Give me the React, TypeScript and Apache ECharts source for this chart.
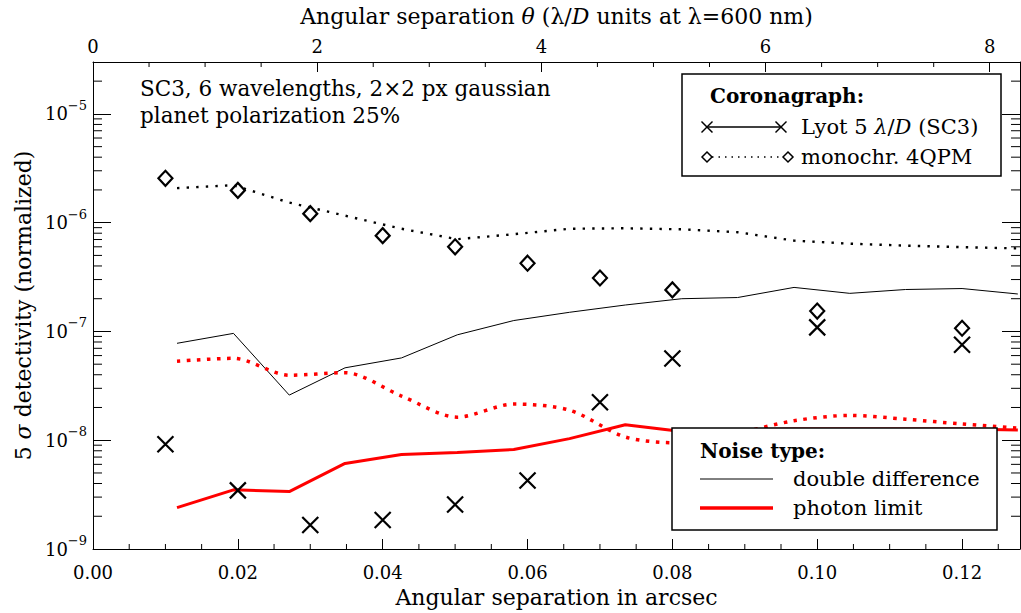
import React, { useEffect, useRef } from "react";
import * as echarts from "echarts";

const FONT = "DejaVu Serif";

// Axis ranges
const X_MIN = 0;
const X_MAX = 0.128; // arcsec
const THETA_MAX = 8.27; // lambda/D
const Y_MIN = 1e-9;
const Y_MAX = 3e-5;

// Minor tick positions
const X_MINOR = [0.005, 0.01, 0.015, 0.025, 0.03, 0.035, 0.045, 0.05, 0.055, 0.065, 0.07, 0.075, 0.085, 0.09, 0.095, 0.105, 0.11, 0.115, 0.125];
const THETA_MINOR = [0.5, 1, 1.5, 2.5, 3, 3.5, 4.5, 5, 5.5, 6.5, 7, 7.5];
const Y_MINOR = [
  2e-9, 3e-9, 4e-9, 5e-9, 6e-9, 7e-9, 8e-9, 9e-9,
  2e-8, 3e-8, 4e-8, 5e-8, 6e-8, 7e-8, 8e-8, 9e-8,
  2e-7, 3e-7, 4e-7, 5e-7, 6e-7, 7e-7, 8e-7, 9e-7,
  2e-6, 3e-6, 4e-6, 5e-6, 6e-6, 7e-6, 8e-6, 9e-6,
  2e-5,
];

// Simulated planet points (arcsec)
const POINT_X = [0.01, 0.02, 0.03, 0.04, 0.05, 0.06, 0.07, 0.08, 0.10, 0.12];
const LYOT_POINTS = [9.2e-9, 3.46e-9, 1.66e-9, 1.85e-9, 2.56e-9, 4.27e-9, 2.23e-8, 5.64e-8, 1.09e-7, 7.55e-8];
const QPM_POINTS = [2.56e-6, 1.98e-6, 1.21e-6, 7.6e-7, 6.0e-7, 4.24e-7, 3.1e-7, 2.41e-7, 1.54e-7, 1.07e-7];

// Detectivity curves
const CURVE_X = [0.0116, 0.0194, 0.0271, 0.0348, 0.0426, 0.0503, 0.0581, 0.0658, 0.0735, 0.0813, 0.089, 0.0968, 0.1045, 0.1122, 0.12, 0.1277];
const LYOT_DD = [7.78e-8, 9.6e-8, 2.6e-8, 4.63e-8, 5.71e-8, 9.31e-8, 1.26e-7, 1.5e-7, 1.75e-7, 2.0e-7, 2.05e-7, 2.54e-7, 2.24e-7, 2.43e-7, 2.48e-7, 2.21e-7];
const QPM_DD = [2.08e-6, 2.21e-6, 1.53e-6, 1.16e-6, 8.79e-7, 7.05e-7, 7.83e-7, 8.79e-7, 8.88e-7, 8.69e-7, 8.17e-7, 6.84e-7, 6.41e-7, 6.15e-7, 5.96e-7, 5.8e-7];
const LYOT_PH = [2.4e-9, 3.5e-9, 3.37e-9, 6.12e-9, 7.4e-9, 7.71e-9, 8.22e-9, 1.034e-8, 1.387e-8, 1.2e-8, 1.24e-8, 1.27e-8, 1.27e-8, 1.27e-8, 1.27e-8, 1.24e-8];
const QPM_PH = [5.33e-8, 5.66e-8, 3.96e-8, 4.18e-8, 2.55e-8, 1.63e-8, 2.15e-8, 1.89e-8, 1.07e-8, 9.45e-9, 1.16e-8, 1.51e-8, 1.69e-8, 1.56e-8, 1.41e-8, 1.29e-8];

const zip = (xs: number[], ys: number[]) => xs.map((x, i) => [x, ys[i]]);

const X_PATH = "path://M0,0L10,10M10,0L0,10";

function buildOption(): any {
  const txt = { fontFamily: FONT, color: "#000" };
  const axisLine = { show: true, onZero: false, lineStyle: { color: "#000", width: 1 } };
  const TITLE = 22;
  const LEG = 21;

  const minorSeries = (data: number[][], xAxisIndex: number, kind: string) => ({
    type: "custom",
    xAxisIndex,
    yAxisIndex: 0,
    silent: true,
    z: 1,
    clip: false,
    data,
    renderItem: (params: any, api: any) => {
      const cs = params.coordSys;
      if (kind === "y") {
        const y = api.coord([xAxisIndex === 0 ? 0.05 : 4, api.value(1)])[1];
        return {
          type: "group",
          children: [
            { type: "line", shape: { x1: cs.x, y1: y, x2: cs.x + 9, y2: y }, style: { stroke: "#000", lineWidth: 1 } },
            { type: "line", shape: { x1: cs.x + cs.width, y1: y, x2: cs.x + cs.width - 9, y2: y }, style: { stroke: "#000", lineWidth: 1 } },
          ],
        };
      }
      const x = api.coord([api.value(0), 1e-8])[0];
      if (kind === "bottom") {
        const yb = cs.y + cs.height;
        return { type: "line", shape: { x1: x, y1: yb, x2: x, y2: yb - 5 }, style: { stroke: "#000", lineWidth: 1 } };
      }
      return { type: "line", shape: { x1: x, y1: cs.y, x2: x, y2: cs.y + 5 }, style: { stroke: "#000", lineWidth: 1 } };
    },
  });

  const yLabel = (v: number) => {
    const e = Math.round(Math.log10(v));
    return `{b|10}{e|${e < 0 ? "\u2212" : ""}${Math.abs(e)}}`;
  };

  const T = (text: string, x: number, y: number, extra: any = {}) => ({
    type: "text",
    x,
    y,
    z: 102,
    style: { text, fontFamily: FONT, fontSize: LEG, fill: "#000", verticalAlign: "middle", ...extra },
  });
  const L = (x1: number, y1: number, x2: number, y2: number, style: any) => ({
    type: "line",
    z: 102,
    shape: { x1, y1, x2, y2 },
    style: { stroke: "#000", lineWidth: 1.5, ...style },
  });
  const cross = (cx: number, cy: number, h: number) => [
    L(cx - h, cy - h, cx + h, cy + h, {}),
    L(cx - h, cy + h, cx + h, cy - h, {}),
  ];
  const diamond = (cx: number, cy: number, h: number) => ({
    type: "polygon",
    z: 102,
    shape: { points: [[cx, cy - h], [cx + h, cy], [cx, cy + h], [cx - h, cy]] },
    style: { fill: "#fff", stroke: "#000", lineWidth: 1.5 },
  });
  const italicT = { i: { fontFamily: FONT, fontSize: TITLE, fontStyle: "italic" } };
  const italicL = { i: { fontFamily: FONT, fontSize: LEG, fontStyle: "italic" } };

  return {
    animation: false,
    backgroundColor: "#fff",
    grid: { left: 93, right: 1, top: 61, bottom: 60, containLabel: false },
    xAxis: [
      {
        type: "value",
        position: "bottom",
        min: X_MIN,
        max: X_MAX,
        interval: 0.02,
        name: "Angular separation in arcsec",
        nameLocation: "middle",
        nameGap: 37,
        nameTextStyle: { ...txt, fontSize: TITLE },
        axisLine,
        axisTick: { show: true, inside: true, length: 10, lineStyle: { color: "#000", width: 1 } },
        splitLine: { show: false },
        axisLabel: { ...txt, fontSize: 18, margin: 14, showMaxLabel: false, formatter: (v: number) => v.toFixed(2) },
      },
      {
        type: "value",
        position: "top",
        min: 0,
        max: THETA_MAX,
        interval: 2,
        name: "Angular separation {i|\u03b8} (\u03bb/{i|D} units at \u03bb=600 nm)",
        nameLocation: "middle",
        nameGap: 35,
        nameTextStyle: { ...txt, fontSize: TITLE, rich: italicT },
        axisLine,
        axisTick: { show: true, inside: true, length: 10, lineStyle: { color: "#000", width: 1 } },
        splitLine: { show: false },
        axisLabel: { ...txt, fontSize: 18, margin: 7, showMaxLabel: false },
      },
    ],
    yAxis: [
      {
        type: "log",
        logBase: 10,
        position: "left",
        min: Y_MIN,
        max: Y_MAX,
        name: "5 {i|\u03c3} detectivity (normalized)",
        nameLocation: "middle",
        nameRotate: 90,
        nameGap: 59,
        nameTextStyle: { ...txt, fontSize: TITLE, rich: italicT },
        axisLine,
        axisTick: { show: true, inside: true, length: 18, lineStyle: { color: "#000", width: 1 } },
        splitLine: { show: false },
        axisLabel: {
          ...txt,
          margin: 6,
          showMaxLabel: false,
          formatter: yLabel,
          rich: {
            b: { fontFamily: FONT, fontSize: 18, lineHeight: 30, color: "#000" },
            e: { fontFamily: FONT, fontSize: 13, verticalAlign: "top", color: "#000" },
          },
        },
      },
      {
        type: "log",
        logBase: 10,
        position: "right",
        min: Y_MIN,
        max: Y_MAX,
        axisLine,
        axisTick: { show: true, inside: true, length: 18, lineStyle: { color: "#000", width: 1 } },
        splitLine: { show: false },
        axisLabel: { show: false },
      },
    ],
    series: [
      minorSeries(X_MINOR.map((v) => [v, 1e-8]), 0, "bottom"),
      minorSeries(THETA_MINOR.map((v) => [v, 1e-8]), 1, "top"),
      minorSeries(Y_MINOR.map((v) => [0.05, v]), 0, "y"),
      {
        name: "Lyot double difference",
        type: "line",
        data: zip(CURVE_X, LYOT_DD),
        symbol: "none",
        lineStyle: { color: "#000", width: 1 },
        z: 3,
      },
      {
        name: "4QPM double difference",
        type: "line",
        data: zip(CURVE_X, QPM_DD),
        symbol: "none",
        lineStyle: { color: "#000", width: 2.4, type: [2.4, 7.2] },
        z: 3,
      },
      {
        name: "Lyot photon limit",
        type: "line",
        data: zip(CURVE_X, LYOT_PH),
        symbol: "none",
        lineStyle: { color: "#ff0000", width: 3 },
        z: 3,
      },
      {
        name: "4QPM photon limit",
        type: "line",
        data: zip(CURVE_X, QPM_PH),
        symbol: "none",
        smooth: 0.3,
        lineStyle: { color: "#ff0000", width: 3.5, type: [3.5, 6.5] },
        z: 3,
      },
      {
        name: "Lyot 5 lambda/D (SC3)",
        type: "scatter",
        data: zip(POINT_X, LYOT_POINTS),
        symbol: X_PATH,
        symbolSize: 16,
        itemStyle: { color: "rgba(0,0,0,0)", borderColor: "#000", borderWidth: 2.2, opacity: 1 },
        z: 4,
      },
      {
        name: "monochr. 4QPM",
        type: "scatter",
        data: zip(POINT_X, QPM_POINTS),
        symbol: "diamond",
        symbolSize: [14, 15],
        itemStyle: { color: "rgba(0,0,0,0)", borderColor: "#000", borderWidth: 2.2, opacity: 1 },
        z: 4,
      },
    ],
    graphic: [
      T("SC3, 6 wavelengths, 2\u00d72 px gaussian", 140, 88, { fontSize: 21.5 }),
      T("planet polarization 25%", 140, 115, { fontSize: 21.5 }),
      // Coronagraph legend
      { type: "rect", z: 100, shape: { x: 682, y: 74, width: 319, height: 102 }, style: { fill: "#fff", stroke: "#000", lineWidth: 1.5 } },
      T("Coronagraph:", 710, 96, { fontWeight: "bold", fontSize: 20 }),
      L(707, 127, 781, 127, {}),
      ...cross(707, 127, 5.5),
      ...cross(781, 127, 5.5),
      T("Lyot 5 {i|\u03bb}/{i|D} (SC3)", 801, 127, { rich: italicL }),
      L(712, 157, 783, 157, { lineDash: [1.5, 5] }),
      diamond(707, 157, 5),
      diamond(788, 157, 5),
      T("monochr. 4QPM", 801, 157),
      // Noise type legend
      { type: "rect", z: 100, shape: { x: 672, y: 428, width: 325, height: 102 }, style: { fill: "#fff", stroke: "#000", lineWidth: 1.5 } },
      T("Noise type:", 700, 451, { fontWeight: "bold", fontSize: 20 }),
      L(700, 479, 773, 479, { lineWidth: 1 }),
      T("double difference", 793, 479),
      L(700, 508, 773, 508, { stroke: "#ff0000", lineWidth: 3.5 }),
      T("photon limit", 793, 508),
    ],
  };
}

export default function App() {
  const ref = useRef<HTMLDivElement>(null);
  useEffect(() => {
    if (!ref.current) return;
    const chart = echarts.init(ref.current, null, { renderer: "svg" });
    chart.setOption(buildOption());
    return () => chart.dispose();
  }, []);
  return (
    <div
      ref={ref}
      style={{ position: "fixed", left: 0, top: 0, width: 1021, height: 613, background: "#fff" }}
    />
  );
}
